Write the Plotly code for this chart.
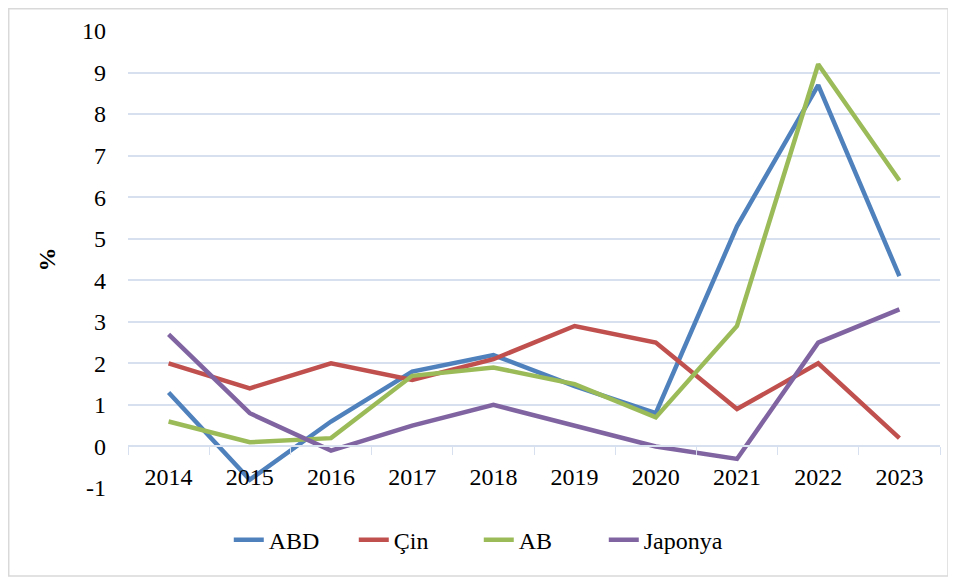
import plotly.graph_objects as go

years = ["2014", "2015", "2016", "2017", "2018", "2019", "2020", "2021", "2022", "2023"]
abd = [1.3, -0.8, 0.6, 1.8, 2.2, 1.45, 0.8, 5.3, 8.7, 4.1]
cin = [2.0, 1.4, 2.0, 1.6, 2.1, 2.9, 2.5, 0.9, 2.0, 0.2]
ab = [0.6, 0.1, 0.2, 1.7, 1.9, 1.5, 0.7, 2.9, 9.2, 6.4]
japonya = [2.7, 0.8, -0.1, 0.5, 1.0, 0.5, 0.0, -0.3, 2.5, 3.3]
y_ticks = [-1, 0, 1, 2, 3, 4, 5, 6, 7, 8, 9, 10]
y_tick_text = ["-1", "0", "1", "2", "3", "4", "5", "6", "7", "8", "9", "10"]

series = [
    ("ABD", abd, "#4F81BD"),
    ("Çin", cin, "#C0504D"),
    ("AB", ab, "#9BBB59"),
    ("Japonya", japonya, "#8064A2"),
]

FONT = "Liberation Serif"
GRID = "#D6E0EF"

fig = go.Figure()
for name, vals, color in series:
    fig.add_trace(go.Scatter(x=years, y=vals, name=name, mode="lines",
                             line=dict(color=color, width=4.5)))

# y=0 sits at this fraction of the plot height (range -1..10)
zero_pos = 1 / 11

# page body has an 8px default margin, so the figure is sized 8px smaller
fig.update_layout(
    width=948, height=570,
    margin=dict(l=120, r=16, t=23, b=90, autoexpand=False),
    plot_bgcolor="white", paper_bgcolor="white",
    font=dict(family=FONT, size=24, color="black"),
    showlegend=True,
    legend=dict(orientation="h", x=0.432, xanchor="center", y=-0.114, yanchor="middle",
                font=dict(family=FONT, size=24), itemwidth=30,
                entrywidth=80, entrywidthmode="pixels"),
    xaxis=dict(
        type="category", range=[-0.5, 9.5], anchor="free", position=zero_pos,
        showline=True, linecolor=GRID, linewidth=1.5,
        ticks="outside", tickson="boundaries", ticklen=8, tickcolor=GRID,
        showgrid=False, ticklabelstandoff=9, automargin=False,
        tickfont=dict(family=FONT, size=24),
    ),
    yaxis=dict(
        range=[-1, 10], tickvals=y_ticks, ticktext=y_tick_text,
        showgrid=True, gridcolor=GRID, gridwidth=1.5,
        zeroline=False, ticks="", ticklabelstandoff=21, automargin=False,
        tickfont=dict(family=FONT, size=24),
        title=dict(text="<b>%</b>", standoff=19, font=dict(family=FONT, size=24)),
    ),
    shapes=[dict(type="rect", xref="paper", yref="paper",
                 x0=-0.1469, x1=1.0099, y0=-0.1926, y1=1.0487,
                 line=dict(color="#D9D9D9", width=1.5))],
)

fig.write_html("out.html")
